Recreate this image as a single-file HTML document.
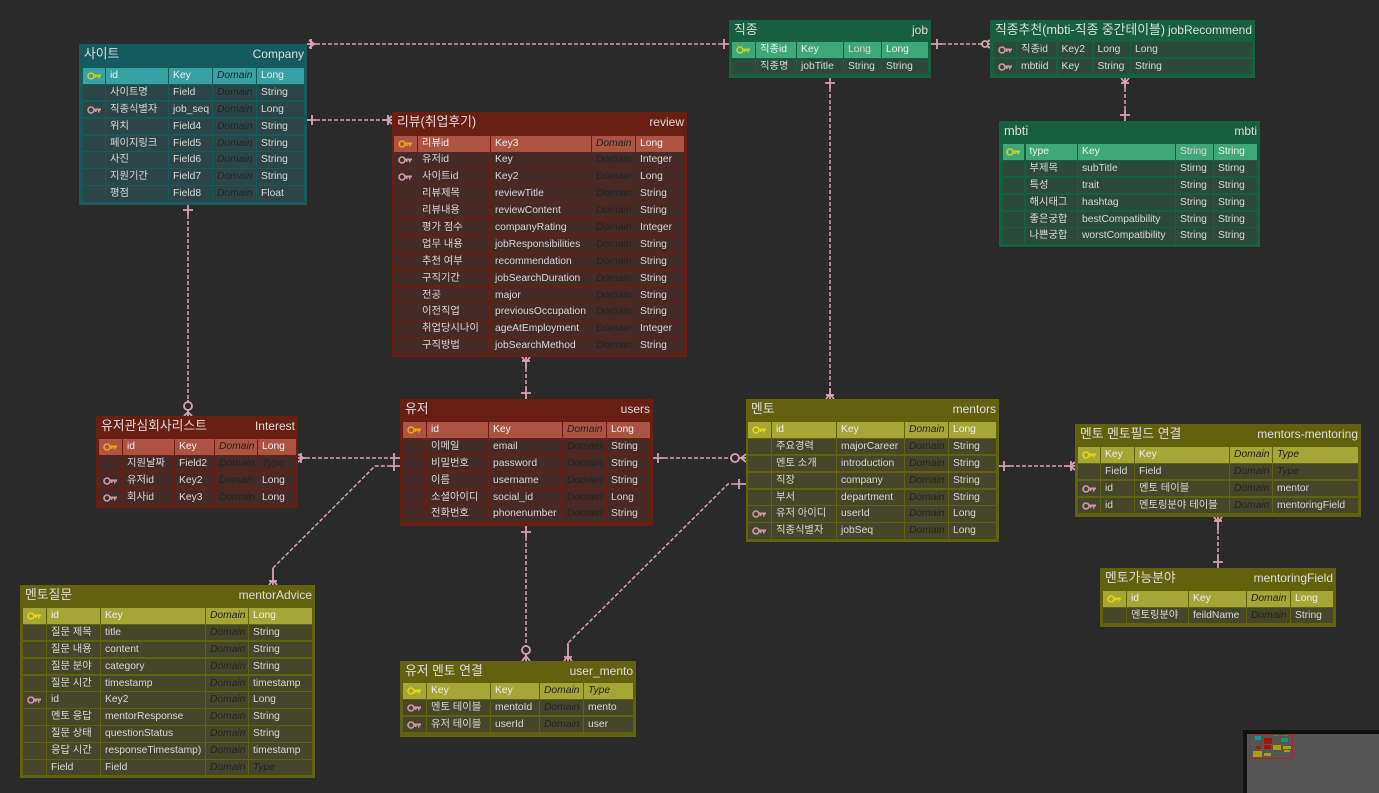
<!DOCTYPE html>
<html lang="ko"><head><meta charset="utf-8"><title>ERD</title>
<style>
html,body{margin:0;padding:0;background:#2a2a2a}
#c{position:relative;width:1379px;height:793px;overflow:hidden;background:#2a2a2a;font-family:"Liberation Sans","Noto Sans CJK KR",sans-serif;color:#d8d8d8;filter:blur(.35px)}
.e{position:absolute;box-sizing:border-box}
.h{position:absolute;top:2px;left:5px;font-size:12.8px;line-height:16px;white-space:nowrap;color:#ddd}
.n{position:absolute;top:3px;right:3px;font-size:12px;line-height:15px;white-space:nowrap;color:#ddd}
.g{position:absolute;display:grid;grid-auto-rows:15.4px;gap:1.5px;font-size:10.3px;line-height:15px}
.g span{display:block;padding-left:4px;white-space:nowrap;overflow:hidden;background:var(--c);height:15.4px}
.g span:nth-child(5n+1){padding:0;text-align:center}
.g span:nth-child(-n+5){background:var(--k);color:#eee;height:16px}
.g span:nth-child(5n+4){font-style:italic;color:#222}
.g.nd span:nth-child(5n+4){font-style:normal;color:#d8d8d8}
.g.nk span:nth-child(-n+5){background:var(--c);color:#d8d8d8;height:15.4px}
.g em{color:#222}
.g svg{width:14px;height:8px;margin-top:4px;display:inline-block}
.g span.p{color:var(--y)!important}
.g span.f{color:#cf9aa6!important}
.te{--b:#125c5f;--k:#37a2a3;--c:#2c4647;--y:#cfcf1f;background:#155a5c}
.gr{--b:#176343;--k:#3ea87a;--c:#2c4a3b;--y:#cfcf1f;background:#16603f}
.re{--b:#6a1f12;--k:#ac5343;--c:#452b27;--y:#e8a810;background:#681f12}
.ol{--b:#66660f;--k:#a6a637;--c:#46462a;--y:#e0d810;background:#62620e}
.m{position:absolute}
</style></head><body><div id="c">

<svg width="1379" height="793" style="position:absolute;left:0;top:0" fill="none" stroke="#d8a2b2">
<defs><symbol id="k" viewBox="0 0 14 8"><circle cx="4" cy="4" r="3" fill="none" stroke="currentColor" stroke-width="1.6"/><path d="M7 2.5H14V4.5H12.5V6.5H11V4.5H9.5V6H8V4.5H7z" fill="currentColor"/></symbol></defs>
<g stroke-width="1.5" stroke-dasharray="4 2">
<path d="M316 44H722"/>
<path d="M316 120H382"/>
<path d="M188 215V400"/>
<path d="M942 44H980"/>
<path d="M1125 88V110"/>
<path d="M830 88V388"/>
<path d="M526 368V388"/>
<path d="M306 458H390"/>
<path d="M273 568L375 466H390"/>
<path d="M664 458H730"/>
<path d="M526 537V645"/>
<path d="M735 484H728L568 643"/>
<path d="M1010 466H1064"/>
<path d="M1218 530V556"/>
</g>
<g stroke-width="1.8">
<path d="M307 44H316M722 44H729M307 120H316M382 120H392M188 205V215M188 400V416M931 44H942M980 44H990M1125 78V88M1125 110V121M830 78V88M830 388V399M526 357V368M526 388V399M298 458H306M390 458H400M390 466H400M653 458H664M730 458H746M526 526V537M526 645V661M735 484H746M568 643V661M999 466H1010M1064 466H1075M1218 517V530M1218 556V568M273 568V585"/>
<path d="M724 39V49M312 115V125M183 210H193M937 39V49M1120 115H1130M825 83H835M521 393H531M394 453V463M394 461V471M658 453V463M739 479V489M521 532H531M1004 461V471M1213 562H1223"/>
<path d="M314 44L309 40M314 44L309 48M311 39V49M387 120L392 116M387 120L392 124M388 115V125"/>
<path d="M188 412L184 416M188 412L192 416"/><circle cx="188" cy="406" r="4" fill="#2a2a2a"/>
<path d="M984 44L990 40M984 44L990 48"/><circle cx="985" cy="44" r="3" fill="#2a2a2a"/>
<path d="M1125 83L1121 78M1125 83L1129 78M1121 83H1129"/>
<path d="M830 394L826 399M830 394L834 399M826 395H834"/>
<path d="M526 362L522 357M526 362L530 357M522 361H530"/>
<path d="M303 458L298 454M303 458L298 462M301 453V463"/>
<path d="M273 580L269 585M273 580L277 585M269 581H277"/>
<path d="M741 458L746 454M741 458L746 462"/><circle cx="735" cy="458" r="4" fill="#2a2a2a"/>
<path d="M526 656L522 661M526 656L530 661"/><circle cx="526" cy="650" r="4" fill="#2a2a2a"/>
<path d="M568 656L564 661M568 656L572 661M564 657H572"/>
<path d="M1070 466L1075 462M1070 466L1075 470M1071 461V471"/>
<path d="M1218 522L1214 517M1218 522L1222 517M1214 521H1222"/>
</g>
</svg>

<!-- Company -->
<div class="e te" style="left:79px;top:44px;width:228px;height:161px"><div class="h">사이트</div><div class="n">Company</div>
<div class="g" style="left:4px;top:24px;grid-template-columns:21.5px 61.5px 42.5px 42.5px 47px">
<span class="p"><svg><use href="#k"/></svg></span><span>id</span><span>Key</span><span>Domain</span><span>Long</span>
<span></span><span>사이트명</span><span>Field</span><span>Domain</span><span>String</span>
<span class="f"><svg><use href="#k"/></svg></span><span>직종식별자</span><span>job_seq</span><span>Domain</span><span>Long</span>
<span></span><span>위치</span><span>Field4</span><span>Domain</span><span>String</span>
<span></span><span>페이지링크</span><span>Field5</span><span>Domain</span><span>String</span>
<span></span><span>사진</span><span>Field6</span><span>Domain</span><span>String</span>
<span></span><span>지원기간</span><span>Field7</span><span>Domain</span><span>String</span>
<span></span><span>평점</span><span>Field8</span><span>Domain</span><span>Float</span>
</div></div>

<!-- job -->
<div class="e gr" style="left:729px;top:20px;width:202px;height:58px"><div class="h">직종</div><div class="n">job</div>
<div class="g nd" style="left:3px;top:22px;grid-template-columns:22.5px 39.5px 45.5px 36.5px 46px">
<span class="p"><svg><use href="#k"/></svg></span><span>직종id</span><span>Key</span><span>Long</span><span>Long</span>
<span></span><span>직종명</span><span>jobTitle</span><span>String</span><span>String</span>
</div></div>

<!-- jobRecommend -->
<div class="e gr" style="left:990px;top:20px;width:265px;height:58px"><div class="h">직종추천(mbti-직종 중간테이블)</div><div class="n">jobRecommend</div>
<div class="g nd nk" style="left:4px;top:22px;grid-template-columns:21.5px 39px 34.5px 36px 121px">
<span class="f"><svg><use href="#k"/></svg></span><span>직종id</span><span>Key2</span><span>Long</span><span>Long</span>
<span class="f"><svg><use href="#k"/></svg></span><span>mbtiid</span><span>Key</span><span>String</span><span>String</span>
</div></div>

<!-- mbti -->
<div class="e gr" style="left:999px;top:121px;width:261px;height:126px"><div class="h">mbti</div><div class="n">mbti</div>
<div class="g nd" style="left:3.5px;top:23px;grid-template-columns:21.5px 51px 96.5px 36.5px 43px">
<span class="p"><svg><use href="#k"/></svg></span><span>type</span><span>Key</span><span>String</span><span>String</span>
<span></span><span>부제목</span><span>subTitle</span><span>Stirng</span><span>Stirng</span>
<span></span><span>특성</span><span>trait</span><span>String</span><span>String</span>
<span></span><span>해시태그</span><span>hashtag</span><span>String</span><span>String</span>
<span></span><span>좋은궁합</span><span>bestCompatibility</span><span>String</span><span>String</span>
<span></span><span>나쁜궁합</span><span>worstCompatibility</span><span>String</span><span>String</span>
</div></div>

<!-- review -->
<div class="e re" style="left:392px;top:112px;width:295px;height:245px"><div class="h">리뷰(취업후기)</div><div class="n">review</div>
<div class="g" style="left:2px;top:23.5px;grid-template-columns:22.5px 71.5px 99.5px 42.5px 48px">
<span class="p"><svg><use href="#k"/></svg></span><span>리뷰id</span><span>Key3</span><span>Domain</span><span>Long</span>
<span class="f"><svg><use href="#k"/></svg></span><span>유저id</span><span>Key</span><span>Domain</span><span>Integer</span>
<span class="f"><svg><use href="#k"/></svg></span><span>사이트id</span><span>Key2</span><span>Domain</span><span>Long</span>
<span></span><span>리뷰제목</span><span>reviewTitle</span><span>Domain</span><span>String</span>
<span></span><span>리뷰내용</span><span>reviewContent</span><span>Domain</span><span>String</span>
<span></span><span>평가 점수</span><span>companyRating</span><span>Domain</span><span>Integer</span>
<span></span><span>업무 내용</span><span>jobResponsibilities</span><span>Domain</span><span>String</span>
<span></span><span>추천 여부</span><span>recommendation</span><span>Domain</span><span>String</span>
<span></span><span>구직기간</span><span>jobSearchDuration</span><span>Domain</span><span>String</span>
<span></span><span>전공</span><span>major</span><span>Domain</span><span>String</span>
<span></span><span>이전직업</span><span>previousOccupation</span><span>Domain</span><span>String</span>
<span></span><span>취업당시나이</span><span>ageAtEmployment</span><span>Domain</span><span>Integer</span>
<span></span><span>구직방법</span><span>jobSearchMethod</span><span>Domain</span><span>String</span>
</div></div>

<!-- users -->
<div class="e re" style="left:400px;top:399px;width:253px;height:127px"><div class="h">유저</div><div class="n">users</div>
<div class="g" style="left:3px;top:23px;grid-template-columns:22.5px 60.5px 72.5px 42.5px 43px">
<span class="p"><svg><use href="#k"/></svg></span><span>id</span><span>Key</span><span>Domain</span><span>Long</span>
<span></span><span>이메일</span><span>email</span><span>Domain</span><span>String</span>
<span></span><span>비밀번호</span><span>password</span><span>Domain</span><span>String</span>
<span></span><span>이름</span><span>username</span><span>Domain</span><span>String</span>
<span></span><span>소셜아이디</span><span>social_id</span><span>Domain</span><span>Long</span>
<span></span><span>전화번호</span><span>phonenumber</span><span>Domain</span><span>String</span>
</div></div>

<!-- Interest -->
<div class="e re" style="left:96px;top:416px;width:202px;height:92px"><div class="h">유저관심회사리스트</div><div class="n">Interest</div>
<div class="g" style="left:3px;top:23px;grid-template-columns:22.5px 50.5px 38.5px 41.5px 38px">
<span class="p"><svg><use href="#k"/></svg></span><span>id</span><span>Key</span><span>Domain</span><span>Long</span>
<span></span><span>지원날짜</span><span>Field2</span><span>Domain</span><span><em>Type</em></span>
<span class="f"><svg><use href="#k"/></svg></span><span>유저id</span><span>Key2</span><span>Domain</span><span>Long</span>
<span class="f"><svg><use href="#k"/></svg></span><span>회사id</span><span>Key3</span><span>Domain</span><span>Long</span>
</div></div>

<!-- mentors -->
<div class="e ol" style="left:746px;top:399px;width:253px;height:143px"><div class="h">멘토</div><div class="n">mentors</div>
<div class="g" style="left:2px;top:23px;grid-template-columns:22.5px 63.5px 66.5px 42.5px 47px">
<span class="p"><svg><use href="#k"/></svg></span><span>id</span><span>Key</span><span>Domain</span><span>Long</span>
<span></span><span>주요경력</span><span>majorCareer</span><span>Domain</span><span>String</span>
<span></span><span>멘토 소개</span><span>introduction</span><span>Domain</span><span>String</span>
<span></span><span>직장</span><span>company</span><span>Domain</span><span>String</span>
<span></span><span>부서</span><span>department</span><span>Domain</span><span>String</span>
<span class="f"><svg><use href="#k"/></svg></span><span>유저 아이디</span><span>userId</span><span>Domain</span><span>Long</span>
<span class="f"><svg><use href="#k"/></svg></span><span>직종식별자</span><span>jobSeq</span><span>Domain</span><span>Long</span>
</div></div>

<!-- mentors-mentoring -->
<div class="e ol" style="left:1075px;top:424px;width:286px;height:93px"><div class="h">멘토 멘토필드 연결</div><div class="n">mentors-mentoring</div>
<div class="g" style="left:3px;top:23px;grid-template-columns:21.5px 32.5px 93.5px 41.5px 85px">
<span class="p"><svg><use href="#k"/></svg></span><span>Key</span><span>Key</span><span>Domain</span><span><em>Type</em></span>
<span></span><span>Field</span><span>Field</span><span>Domain</span><span><em>Type</em></span>
<span class="f"><svg><use href="#k"/></svg></span><span>id</span><span>멘토 테이블</span><span>Domain</span><span>mentor</span>
<span class="f"><svg><use href="#k"/></svg></span><span>id</span><span>멘토링분야 테이블</span><span>Domain</span><span>mentoringField</span>
</div></div>

<!-- mentoringField -->
<div class="e ol" style="left:1100px;top:568px;width:236px;height:59px"><div class="h">멘토가능분야</div><div class="n">mentoringField</div>
<div class="g" style="left:3px;top:23px;grid-template-columns:22.5px 60.5px 56.5px 42.5px 42px">
<span class="p"><svg><use href="#k"/></svg></span><span>id</span><span>Key</span><span>Domain</span><span>Long</span>
<span></span><span>멘토링분야</span><span>feildName</span><span>Domain</span><span>String</span>
</div></div>

<!-- mentorAdvice -->
<div class="e ol" style="left:20px;top:585px;width:295px;height:193px"><div class="h">멘토질문</div><div class="n">mentorAdvice</div>
<div class="g" style="left:3px;top:23px;grid-template-columns:22.5px 52.5px 103.5px 41.5px 63px">
<span class="p"><svg><use href="#k"/></svg></span><span>id</span><span>Key</span><span>Domain</span><span>Long</span>
<span></span><span>질문 제목</span><span>title</span><span>Domain</span><span>String</span>
<span></span><span>질문 내용</span><span>content</span><span>Domain</span><span>String</span>
<span></span><span>질문 분야</span><span>category</span><span>Domain</span><span>String</span>
<span></span><span>질문 시간</span><span>timestamp</span><span>Domain</span><span>timestamp</span>
<span class="f"><svg><use href="#k"/></svg></span><span>id</span><span>Key2</span><span>Domain</span><span>Long</span>
<span></span><span>멘토 응답</span><span>mentorResponse</span><span>Domain</span><span>String</span>
<span></span><span>질문 상태</span><span>questionStatus</span><span>Domain</span><span>String</span>
<span></span><span>응답 시간</span><span>responseTimestamp)</span><span>Domain</span><span>timestamp</span>
<span></span><span>Field</span><span>Field</span><span>Domain</span><span><em>Type</em></span>
</div></div>

<!-- user_mento -->
<div class="e ol" style="left:400px;top:661px;width:236px;height:76px"><div class="h">유저 멘토 연결</div><div class="n">user_mento</div>
<div class="g" style="left:3px;top:22px;grid-template-columns:22.5px 62.5px 47.5px 42.5px 49px">
<span class="p"><svg><use href="#k"/></svg></span><span>Key</span><span>Key</span><span>Domain</span><span><em>Type</em></span>
<span class="f"><svg><use href="#k"/></svg></span><span>멘토 테이블</span><span>mentoId</span><span>Domain</span><span>mento</span>
<span class="f"><svg><use href="#k"/></svg></span><span>유저 테이블</span><span>userId</span><span>Domain</span><span>user</span>
</div></div>

<!-- minimap -->
<div class="m" style="left:1243px;top:730px;width:136px;height:63px;background:#111"></div>
<div class="m" style="left:1247px;top:734px;width:132px;height:59px;background:#555"></div>
<div class="m" style="left:1255px;top:736px;width:6px;height:4px;background:#0f9aa0"></div>
<div class="m" style="left:1264px;top:738px;width:8px;height:6px;background:#a01808"></div>
<div class="m" style="left:1256px;top:746px;width:5px;height:3px;background:#a01808"></div>
<div class="m" style="left:1264px;top:745px;width:7px;height:4px;background:#a01808"></div>
<div class="m" style="left:1273px;top:745px;width:8px;height:5px;background:#a8a000"></div>
<div class="m" style="left:1283px;top:746px;width:8px;height:3px;background:#a8a000"></div>
<div class="m" style="left:1284px;top:750px;width:6px;height:2px;background:#a8a000"></div>
<div class="m" style="left:1253px;top:751px;width:9px;height:6px;background:#a8a000"></div>
<div class="m" style="left:1264px;top:753px;width:7px;height:3px;background:#a8a000"></div>
<div class="m" style="left:1273px;top:734px;width:6px;height:2px;background:#0aa060"></div>
<div class="m" style="left:1281px;top:734px;width:7px;height:2px;background:#0aa060"></div>
<div class="m" style="left:1281px;top:738px;width:7px;height:4px;background:#0aa060"></div>
<div class="m" style="left:1249px;top:734px;width:44px;height:25px;box-sizing:border-box;border:1px solid #a8232c"></div>

</div></body></html>
